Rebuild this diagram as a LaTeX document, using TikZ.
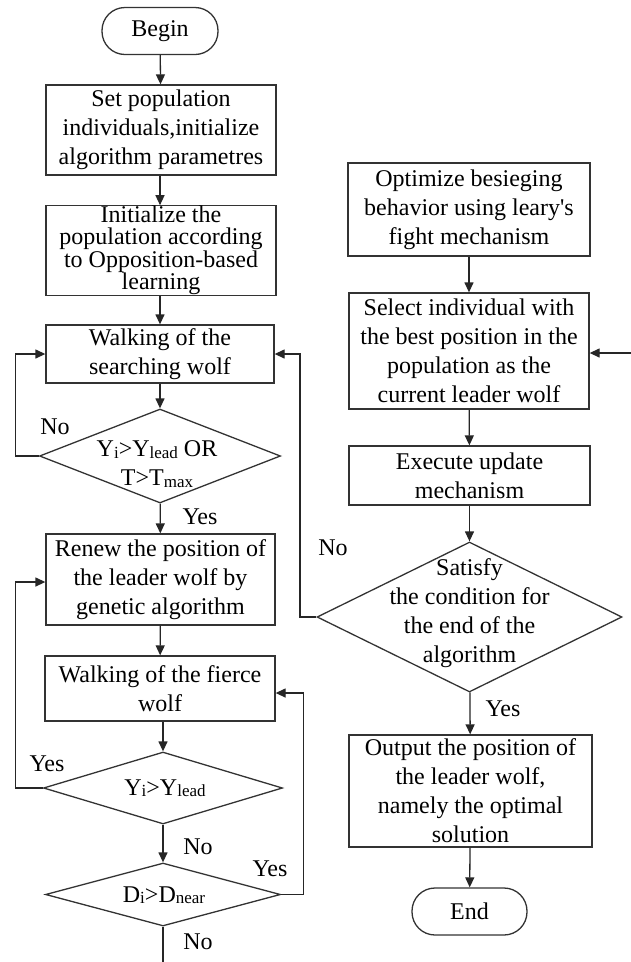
\documentclass[tikz,border=0pt]{standalone}
\usepackage{fontspec}
\setmainfont{Liberation Serif}
\usetikzlibrary{shapes.geometric,arrows.meta,calc}
\newcommand{\lowsub}[1]{\raisebox{-1.5pt}{\fontsize{17}{17}\selectfont #1}}
\begin{document}
\begin{tikzpicture}[x=1pt,y=-1pt,
  every node/.style={font=\fontsize{24}{29}\selectfont, text=black},
  proc/.style={draw=black!80, line width=1.3pt, rectangle, align=center, inner sep=0pt},
  term/.style={draw=black!80, line width=1.3pt, rectangle, rounded corners=23pt, inner sep=0pt, minimum width=116pt, minimum height=47pt},
  dec/.style={draw=black!80, line width=1.3pt, diamond, inner sep=0pt},
  lbl/.style={align=center, inner sep=0pt},
  conn/.style={draw=black!85, line width=1.3pt, -{Triangle[length=10pt,width=9pt]}},
  plainline/.style={draw=black!85, line width=1.3pt},
]
\useasboundingbox (0,0) rectangle (631,962);
\fill[white] (0,0) rectangle (631,962);

% left column
\node[term] (begin) at (160,31) {Begin};
\node[proc, minimum width=230pt, minimum height=90pt] (box1) at (161,130)
  {Set population\\individuals,initialize\\algorithm parametres};
\node[proc, minimum width=230pt, minimum height=89pt, font=\fontsize{24}{22.5}\selectfont] (box2) at (161,250.5)
  {Initialize the\\population according\\to Opposition-based\\learning};
\node[proc, minimum width=228pt, minimum height=58pt] (box3) at (160,354)
  {Walking of the\\searching wolf};
\node[dec, minimum width=241pt, minimum height=94pt] (d1) at (160,456) {};
\node[lbl] (d1t) at (157,464) {Y\lowsub{i}>Y\lowsub{lead} OR\\T>T\lowsub{max}};
\node[proc, minimum width=229pt, minimum height=91pt] (box4) at (160.5,579.5)
  {Renew the position of\\the leader wolf by\\genetic algorithm};
\node[proc, minimum width=230pt, minimum height=65pt] (box5) at (160,688.5)
  {Walking of the fierce\\wolf};
\node[dec, minimum width=239pt, minimum height=72pt] (d2) at (163,788) {};
\node[lbl] (d2t) at (165,788) {Y\lowsub{i}>Y\lowsub{lead}};
\node[dec, minimum width=235pt, minimum height=63pt] (d3) at (163,894.5) {};
\node[lbl] (d3t) at (164,895) {D\lowsub{i}>D\lowsub{near}};
\coordinate (bot) at (163,962);

% right column
\node[proc, minimum width=242pt, minimum height=93pt] (r1) at (469,209.5)
  {Optimize besieging\\behavior using leary\textquotesingle s\\fight mechanism};
\node[proc, minimum width=240pt, minimum height=116pt] (r2) at (469,351)
  {Select individual with\\the best position in the\\population as the\\current leader wolf};
\node[proc, minimum width=241pt, minimum height=59pt] (r3) at (469.5,475.5)
  {Execute update\\mechanism};
\node[dec, minimum width=305pt, minimum height=150pt] (dr) at (469.5,617) {};
\node[lbl] (drt) at (469.5,613) {Satisfy\\the condition for\\the end of the\\algorithm};
\node[proc, minimum width=243pt, minimum height=112pt] (r4) at (470.5,791)
  {Output the position of\\the leader wolf,\\namely the optimal\\solution};
\node[term, minimum width=115pt] (end) at (469.5,911.5) {End};
\coordinate (rin) at (631,353);

% connectors left
\draw[conn] (begin) -- (box1);
\draw[conn] (box1.south -| begin) -- (box2.north -| begin);
\draw[conn] (box2.south -| begin) -- (box3.north -| begin);
\draw[conn] (box3) -- (d1);
\draw[conn] (d1) -- (box4);
\draw[conn] (box4) -- (box5);
\draw[conn] (box5.south -| d2) -- (d2);
\draw[conn] (d2) -- (d3);
\draw[plainline] (d3) -- (bot);
\draw[conn] (d1.west) -- ++(-23.5,0) |- (box3.west);
\draw[conn] (d2.west) -- ++(-27.5,0) |- ($(box4.west)+(0,2.5)$);
\draw[conn] (d3.east) -- ++(22.5,0) |- ($(box5.east)+(0,4.5)$);

% connectors right
\draw[conn] (r1) -- (r2);
\draw[conn] (r2) -- (r3);
\draw[conn] (r3) -- (dr);
\draw[conn] (dr) -- (r4);
\draw[conn] (r4) -- (end);
\draw[conn] (rin) -- (r2.east |- rin);
\draw[conn] (dr.west) -- ++(-16.5,0) |- (box3.east);

% labels
\node[lbl] (l1) at (55,427) {No};
\node[lbl] (l2) at (200,517) {Yes};
\node[lbl] (l3) at (47,764) {Yes};
\node[lbl] (l4) at (198,847) {No};
\node[lbl] (l5) at (270,869) {Yes};
\node[lbl] (l6) at (198,942) {No};
\node[lbl] (l7) at (333,548) {No};
\node[lbl] (l8) at (503,709) {Yes};
\end{tikzpicture}
\end{document}
